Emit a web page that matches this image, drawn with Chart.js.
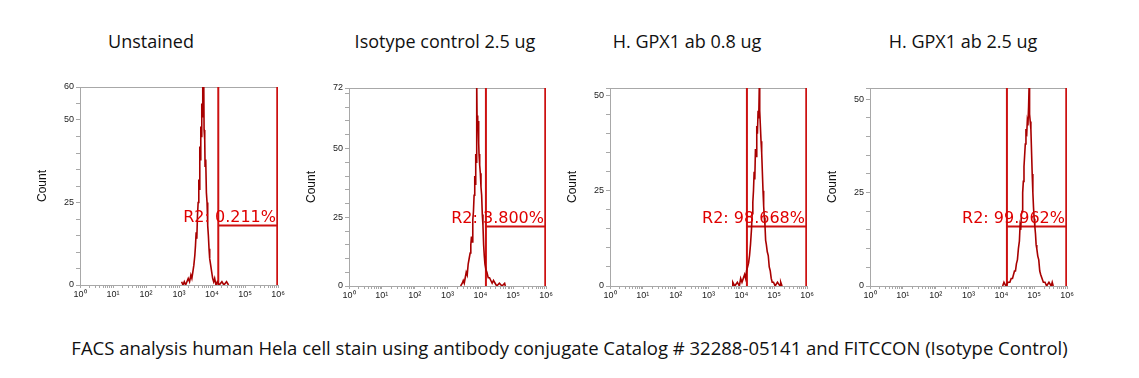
<!DOCTYPE html>
<html>
<head>
<meta charset="utf-8">
<script src="https://cdn.jsdelivr.net/npm/chart.js@4.4.1/dist/chart.umd.min.js"></script>
<style>
  body { margin: 0; background: #fff; width: 1139px; height: 378px; position: relative; overflow: hidden; font-family: 'Open Sans', sans-serif; }
  .title { position: absolute; top: 29px; font-size: 18px; color: #111; transform: translateX(-50%); white-space: nowrap; }
  .box { position: absolute; top: 80px; }
  #caption { position: absolute; top: 335px; left: 0; width: 1139px; text-align: center; font-size: 18.5px; color: #111; white-space: nowrap; }
</style>
</head>
<body>
<div id="titles"></div>
<div id="boxes"></div>
<div id="caption">FACS analysis human Hela cell stain using antibody conjugate Catalog # 32288-05141 and FITCCON (Isotype Control)</div>
<script>
// panel titles
var panelTitles = ['Unstained', 'Isotype control 2.5 ug', 'H. GPX1 ab 0.8 ug', 'H. GPX1 ab 2.5 ug'];

// histograms: x as log10 of fluorescence, y as count
var unstainedX = [3.08,3.12,3.16,3.20,3.24,3.28,3.32,3.36,3.39,3.42,3.45,3.48,3.50,3.52,3.54,3.56,3.58,3.60,3.61,3.63,3.64,3.66,3.67,3.69,3.70,3.72,3.73,3.75,3.76,3.78,3.79,3.81,3.83,3.85,3.87,3.89,3.91,3.93,3.96,3.99,4.02,4.05,4.08,4.12,4.16,4.22,4.30,4.36,4.44,4.50];
var unstainedY = [1,0,1,0,1,2,1,3,2,4,6,9,12,16,14,21,25,32,29,42,38,48,45,55,51,62,58,62,47,44,36,38,28,25,18,15,11,8,6,4,2,1,2,0,1,0,1,0,1,0];

var isotypeX = [3.40,3.45,3.48,3.51,3.54,3.57,3.60,3.63,3.66,3.69,3.71,3.73,3.75,3.77,3.79,3.81,3.83,3.84,3.86,3.87,3.89,3.90,3.92,3.93,3.95,3.96,3.98,4.00,4.02,4.04,4.06,4.08,4.10,4.12,4.14,4.17,4.20,4.24,4.28,4.32,4.36,4.40,4.45,4.50,4.58,4.66,4.74,4.76];
var isotypeY = [0,1,2,1,3,5,4,8,10,12,15,18,16,24,27,33,40,37,48,45,74,62,58,60,52,48,44,41,36,33,26,22,15,11,8,6,5,3,3,2,1,2,1,0,1,0,1,0];

var gpx08X = [3.72,3.74,3.80,3.88,3.94,3.98,4.02,4.06,4.10,4.13,4.16,4.19,4.22,4.25,4.28,4.31,4.33,4.35,4.37,4.39,4.41,4.43,4.45,4.47,4.49,4.51,4.53,4.55,4.56,4.58,4.60,4.62,4.64,4.66,4.68,4.70,4.72,4.74,4.76,4.79,4.82,4.85,4.88,4.91,4.94,4.98,5.03,5.10,5.18,5.20,5.24];
var gpx08Y = [0,1,0,1,0,2,1,2,3,2,4,5,6,8,11,15,19,22,25,30,28,36,34,42,40,46,44,54,46,42,38,35,30,25,21,18,16,12,11,9,8,5,4,2,1,1,0,1,0,1,0];

var gpx25X = [4.04,4.08,4.14,4.20,4.26,4.30,4.34,4.37,4.40,4.43,4.46,4.49,4.52,4.55,4.57,4.59,4.61,4.63,4.65,4.67,4.69,4.71,4.73,4.75,4.77,4.79,4.81,4.83,4.85,4.86,4.88,4.90,4.92,4.94,4.96,4.98,5.00,5.02,5.04,5.06,5.08,5.11,5.14,5.17,5.20,5.24,5.28,5.33,5.38,5.45,5.52,5.55,5.58];
var gpx25Y = [0,1,0,1,1,2,2,3,4,4,6,7,10,12,16,15,19,20,25,28,32,35,38,42,40,44,43,48,55,46,44,42,36,30,25,21,18,16,14,11,10,8,7,4,3,2,1,1,0,1,0,1,0];

// y axis range and labelled ticks
var yMax = [60, 72, 52, 53];
var yLabels = [[0, 25, 50, 60], [0, 25, 50, 72], [0, 25, 50], [0, 25, 50]];

// R2 gate: low/high fluorescence, marker height, percent
var gateLow = [15500, 14800, 14800, 14800];
var gateHigh = [950000, 950000, 950000, 950000];
var gateLevel = [18, 21.6, 15.6, 15.9];
var gatePct = ['0.211%', '3.800%', '98.668%', '99.962%'];

var histX = [unstainedX, isotypeX, gpx08X, gpx25X];
var histY = [unstainedY, isotypeY, gpx08Y, gpx25Y];

// layout of each plot box in the page
var plotLeft = [80, 349, 610, 870];
var plotRight = [278, 546, 807, 1067];
var plotTop = [87, 88, 88, 88];
var plotBottom = [285, 286, 286, 286];
var titleCenter = [151, 445, 687, 963];

var SUP = ['\u2070', '\u00b9', '\u00b2', '\u00b3', '\u2074', '\u2075', '\u2076'];
var axisGray = '#a8a8a8';

var framePlugin = {
    id: 'frame',
    beforeDatasetsDraw: function(chart) {
        var a = chart.chartArea, ctx = chart.ctx;
        ctx.save();
        ctx.strokeStyle = axisGray;
        ctx.lineWidth = 1;
        ctx.strokeRect(a.left + 0.5, a.top + 0.5, a.right - a.left - 1, a.bottom - a.top);
        ctx.restore();
    },
    afterDatasetsDraw: function(chart, args, opts) {
        var ctx = chart.ctx, ys = chart.scales.y, a = chart.chartArea;
        ctx.save();
        ctx.fillStyle = '#e00000';
        ctx.font = '16px "DejaVu Sans"';
        ctx.textAlign = 'right';
        ctx.textBaseline = 'alphabetic';
        ctx.fillText('R2: ' + opts.pct, a.right - 2, ys.getPixelForValue(opts.level) - 4);
        ctx.restore();
    }
};

for (var i = 0; i < 4; i++) {
    var t = document.createElement('div');
    t.className = 'title';
    t.style.left = titleCenter[i] + 'px';
    t.textContent = panelTitles[i];
    document.getElementById('titles').appendChild(t);

    var left = plotLeft[i] - 45;
    var w = 262;
    var h = plotBottom[i] + 14 - 80;
    var box = document.createElement('div');
    box.className = 'box';
    box.style.left = left + 'px';
    box.style.width = w + 'px';
    box.style.height = h + 'px';
    var cv = document.createElement('canvas');
    cv.width = w; cv.height = h;
    box.appendChild(cv);
    document.getElementById('boxes').appendChild(box);

    var pts = histX[i].map(function(v, k) { return { x: Math.pow(10, v), y: this[k] }; }, histY[i]);
    var gateColor = '#cc1010';

    (function(idx) {
        new Chart(cv.getContext('2d'), {
            type: 'line',
            data: {
                datasets: [
                    { data: pts, borderColor: '#a80000', borderWidth: 1.6, pointRadius: 0, tension: 0, fill: false },
                    { data: [{ x: gateLow[idx], y: 0 }, { x: gateLow[idx], y: yMax[idx] }], borderColor: gateColor, borderWidth: 2, pointRadius: 0 },
                    { data: [{ x: gateHigh[idx], y: 0 }, { x: gateHigh[idx], y: yMax[idx] }], borderColor: gateColor, borderWidth: 2, pointRadius: 0 },
                    { data: [{ x: gateLow[idx], y: gateLevel[idx] }, { x: gateHigh[idx], y: gateLevel[idx] }], borderColor: gateColor, borderWidth: 2, pointRadius: 0 }
                ]
            },
            options: {
                responsive: false,
                animation: false,
                devicePixelRatio: 1,
                layout: { padding: { top: plotTop[idx] - 80, right: left + w - plotRight[idx], bottom: 0, left: 0 } },
                plugins: {
                    legend: { display: false },
                    tooltip: { enabled: false },
                    frame: { pct: gatePct[idx], level: gateLevel[idx] }
                },
                scales: {
                    x: {
                        type: 'logarithmic',
                        min: 1, max: 1000000,
                        afterBuildTicks: function(s) {
                            var tk = [];
                            for (var p = 0; p < 6; p++) {
                                for (var m = 1; m < 10; m++) tk.push({ value: m * Math.pow(10, p) });
                            }
                            tk.push({ value: 1000000 });
                            s.ticks = tk;
                        },
                        afterFit: function(s) { s.height = 14; s.paddingLeft = 0; s.paddingRight = 0; },
                        grid: { display: true, drawOnChartArea: false, tickLength: 3, color: axisGray },
                        border: { color: axisGray },
                        ticks: {
                            autoSkip: false, maxRotation: 0, padding: 1,
                            font: { family: 'Liberation Sans', size: 9 }, color: '#222',
                            callback: function(v) {
                                var e = Math.log10(v);
                                return Math.abs(e - Math.round(e)) < 1e-6 ? '10' + SUP[Math.round(e)] : '';
                            }
                        }
                    },
                    y: {
                        min: 0, max: yMax[idx],
                        afterBuildTicks: function(s) {
                            var tk = [];
                            for (var v = 0; v <= yMax[idx]; v += 5) tk.push({ value: v });
                            if (yMax[idx] % 5) tk.push({ value: yMax[idx] });
                            s.ticks = tk;
                        },
                        afterFit: function(s) { s.width = 45; s.paddingTop = 0; s.paddingBottom = 0; },
                        grid: { display: true, drawOnChartArea: false, tickLength: 4, color: axisGray },
                        border: { color: axisGray },
                        title: { display: true, text: 'Count', font: { family: 'Liberation Sans', size: 12 }, color: '#111', padding: { top: 0, bottom: 0 } },
                        ticks: {
                            autoSkip: false, padding: 2,
                            font: { family: 'Liberation Sans', size: 9 }, color: '#222',
                            callback: function(v) { return yLabels[idx].indexOf(v) >= 0 ? String(v) : ''; }
                        }
                    }
                }
            },
            plugins: [framePlugin]
        });
    })(i);
}
</script>
</body>
</html>
